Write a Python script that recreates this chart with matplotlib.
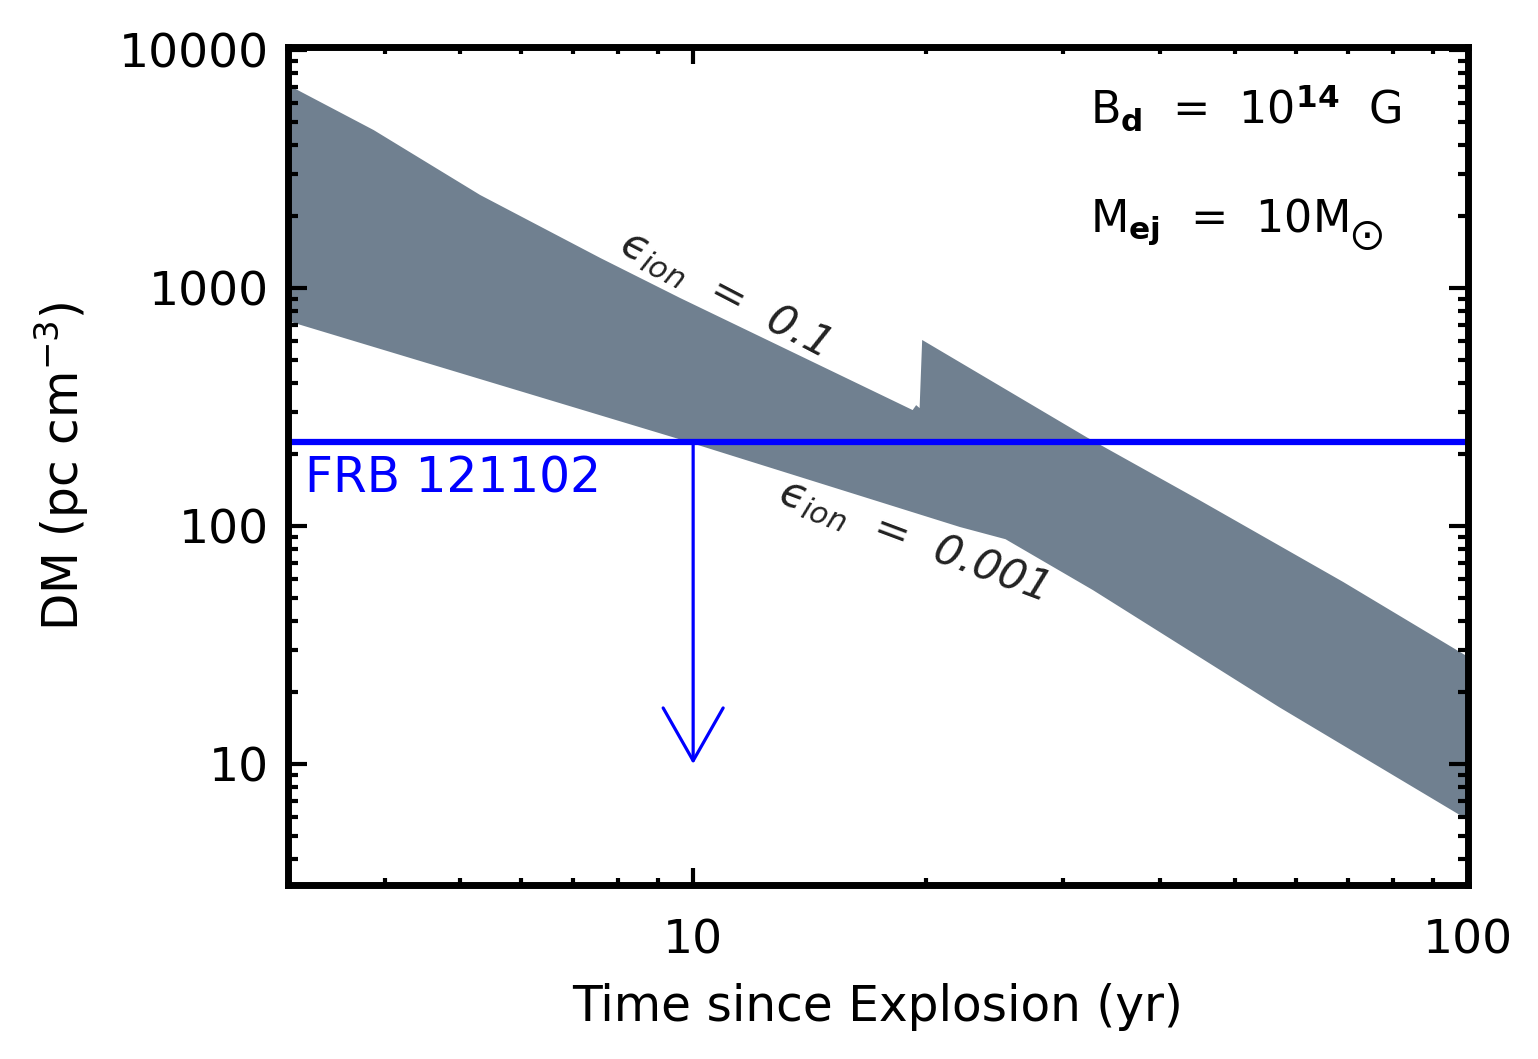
import numpy as np
import matplotlib
matplotlib.use("Agg")
import matplotlib.pyplot as plt
from matplotlib.ticker import LogLocator, NullFormatter, FixedLocator, FixedFormatter

plt.rcParams['font.family'] = ['DejaVu Sans']
plt.rcParams['mathtext.fontset'] = 'dejavusans'

# Upper boundary of band (eps_ion = 0.1)
t_upper = [3.0, 3.87, 5.31, 7.59, 9.62, 19.2, 19.4, 19.6, 19.75, 32.2, 45.1, 69.0, 100.0]
dm_upper = [7130, 4610, 2460, 1337, 908, 307, 322, 313, 605, 236, 128, 58.2, 28.2]
# Lower boundary of band (eps_ion = 0.001)
t_lower = [3.0, 9.42, 22.1, 25.3, 32.8, 57.1, 100.0]
dm_lower = [726, 236, 99, 88, 53.8, 17.3, 5.82]

frb_dm = 225.0
frb_age_limit = 10.0
arrow_tip_dm = 10.0

xlim = (3.0, 100.0)
ylim = (3.1, 10300.0)
xtick_vals = [10, 100]
xtick_labels = ['10', '100']
ytick_vals = [10, 100, 1000, 10000]
ytick_labels = ['10', '100', '1000', '10000']

fig = plt.figure(figsize=(15.38, 10.59), dpi=100)
ax = fig.add_axes([288/1538, 1-885/1059, (1468-288)/1538, (885-47)/1059])
ax.set_xscale('log')
ax.set_yscale('log')
ax.set_xlim(*xlim)
ax.set_ylim(*ylim)

poly_x = np.concatenate([t_upper, t_lower[::-1]])
poly_y = np.concatenate([dm_upper, dm_lower[::-1]])
ax.fill(poly_x, poly_y, color='#708090', lw=0, zorder=1)

ax.axhline(frb_dm, color='#0000ff', lw=4.5, zorder=3)
ax.annotate('', xy=(frb_age_limit, arrow_tip_dm), xytext=(frb_age_limit, frb_dm),
            arrowprops=dict(arrowstyle='->,head_length=1.9,head_width=1.08',
                            color='#0000ff', lw=2.3, shrinkA=0, shrinkB=0,
                            mutation_scale=20), zorder=3)

ax.text(3.16, 159, 'FRB 121102', color='#0000ff', fontsize=35,
        ha='left', va='center', zorder=4)

ax.text(8.1, 1585, '$\u03f5_{ion}$  =  0.1', fontsize=31, style='italic',
        rotation=-27.5, rotation_mode='anchor', ha='left', va='center',
        color='#222222', zorder=4)
ax.text(12.95, 141.6, '$\u03f5_{ion}$  =  0.001', fontsize=31, style='italic',
        rotation=-20.5, rotation_mode='anchor', ha='left', va='center',
        color='#222222', zorder=4)

ax.text(0.68, 0.927, r'B$_\mathbf{d}$  =  10$^{\mathbf{14}}$  G', transform=ax.transAxes,
        fontsize=32, ha='left', va='center')
ax.text(0.68, 0.788, r'M$_\mathbf{ej}$  =  10M$_{_\bigodot}$', transform=ax.transAxes,
        fontsize=32, ha='left', va='center')

# axes styling
for s in ax.spines.values():
    s.set_linewidth(5)
    s.set_zorder(5)

ax.xaxis.set_major_locator(FixedLocator(xtick_vals))
ax.xaxis.set_major_formatter(FixedFormatter(xtick_labels))
ax.yaxis.set_major_locator(FixedLocator(ytick_vals))
ax.yaxis.set_major_formatter(FixedFormatter(ytick_labels))
ax.xaxis.set_minor_locator(LogLocator(base=10, subs=np.arange(2, 10)))
ax.yaxis.set_minor_locator(LogLocator(base=10, subs=np.arange(2, 10)))
ax.xaxis.set_minor_formatter(NullFormatter())
ax.yaxis.set_minor_formatter(NullFormatter())

ax.tick_params(axis='both', which='both', direction='in', top=True, right=True, width=3, colors='black')
ax.tick_params(axis='y', which='major', length=14, labelsize=34, pad=14)
ax.tick_params(axis='y', which='minor', length=7)
ax.tick_params(axis='x', which='major', length=12, labelsize=34, pad=24)
ax.tick_params(axis='x', which='minor', length=5)

ax.set_xlabel('Time since Explosion (yr)', fontsize=35, labelpad=14)
ax.set_ylabel(r'DM (pc cm$^{-3}$)', fontsize=35, labelpad=20)

fig.savefig('out.png', dpi=100)
